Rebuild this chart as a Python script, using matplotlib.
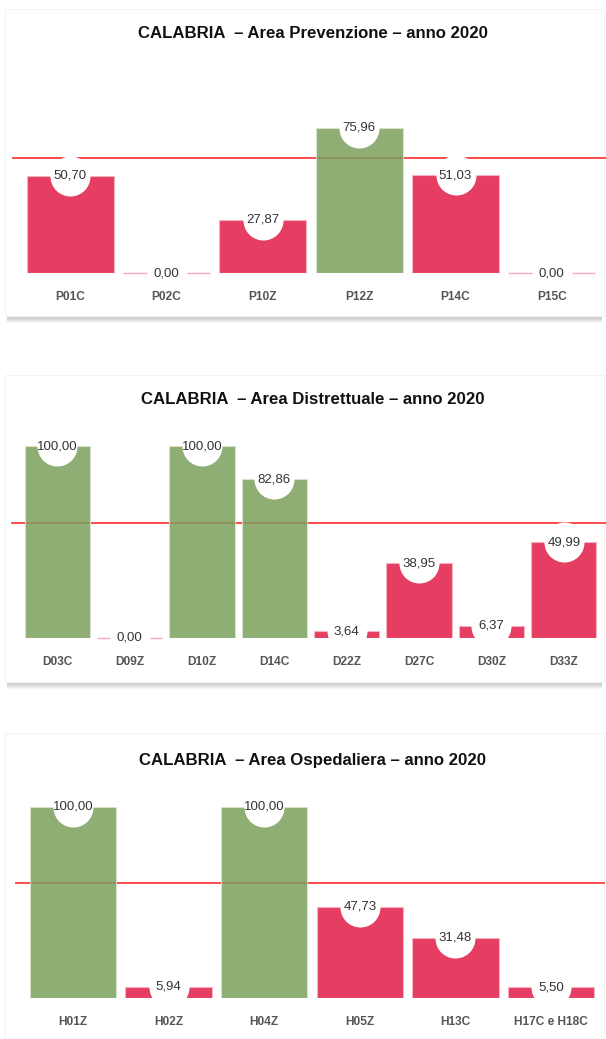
import matplotlib.pyplot as plt
from matplotlib.patches import FancyBboxPatch

plt.rcParams['font.family'] = ['Liberation Sans', 'DejaVu Sans']

# Data
titles = [
    "CALABRIA  \u2013 Area Prevenzione \u2013 anno 2020",
    "CALABRIA  \u2013 Area Distrettuale \u2013 anno 2020",
    "CALABRIA  \u2013 Area Ospedaliera \u2013 anno 2020",
]
prev_labels = ["P01C", "P02C", "P10Z", "P12Z", "P14C", "P15C"]
prev_values = [50.70, 0.00, 27.87, 75.96, 51.03, 0.00]
distr_labels = ["D03C", "D09Z", "D10Z", "D14C", "D22Z", "D27C", "D30Z", "D33Z"]
distr_values = [100.00, 0.00, 100.00, 82.86, 3.64, 38.95, 6.37, 49.99]
osp_labels = ["H01Z", "H02Z", "H04Z", "H05Z", "H13C", "H17C e H18C"]
osp_values = [100.00, 5.94, 100.00, 47.73, 31.48, 5.50]
threshold = 60

W, H = 606, 1039
fig = plt.figure(figsize=(W / 100, H / 100), dpi=100)

green = "#7BA05B"
red = "#E21C46"


def fx(px):
    return px / W


def fy(py):
    return 1 - py / H


# cards with a soft shadow
cards = [(5, 9, 604, 316), (5, 375, 604, 682), (5, 733, 604, 1045)]
for x0, y0, x1, y1 in cards:
    for i in range(7, 0, -1):
        sh = FancyBboxPatch((fx(x0 + 2), fy(y1 + i)), fx(x1 - x0 - 4), fy(y0) - fy(y1),
                            boxstyle="square,pad=0", transform=fig.transFigure,
                            facecolor="black", edgecolor="none", alpha=0.035, zorder=-5)
        fig.patches.append(sh)
    card = FancyBboxPatch((fx(x0), fy(y1)), fx(x1 - x0), fy(y0) - fy(y1),
                          boxstyle="square,pad=0", transform=fig.transFigure,
                          facecolor="white", edgecolor="#f4f4f4", linewidth=0.8, zorder=-4)
    fig.patches.append(card)

panels = [
    (prev_labels, prev_values, 22, 600, 273, 33),
    (distr_labels, distr_values, 21, 600, 638, 400),
    (osp_labels, osp_values, 25, 599, 998, 760),
]

for (labels, values, left, right, base, ty), title in zip(panels, titles):
    ax = fig.add_axes([fx(left), fy(base), fx(right - left), 191.5 / H])
    n = len(values)
    xs = list(range(n))
    colors = [green if v >= threshold else red for v in values]
    edges = ["#F5B5C4" if v < threshold else "#D8E4CC" for v in values]
    ax.bar(xs, values, width=0.9, color=colors, alpha=0.85,
           edgecolor=edges, linewidth=0.8, zorder=3)
    # zero-valued bars show as a thin pale line
    zx = [x for x, v in zip(xs, values) if v == 0]
    if zx:
        ax.hlines([0] * len(zx), [x - 0.45 for x in zx], [x + 0.45 for x in zx],
                  color="#F5A9BA", lw=1.0, zorder=3, clip_on=False)
    ax.plot([-0.0155, 1.009], [threshold, threshold], color="#FF3B3B", lw=1.3,
            transform=ax.get_yaxis_transform(), clip_on=False, zorder=2)
    ax.scatter(xs, values, s=830, color="white", zorder=4, clip_on=False, linewidths=0)
    for x, v in zip(xs, values):
        ax.text(x, v, f"{v:.2f}".replace(".", ","), ha="center", va="center",
                fontsize=9.5, color="#333333", zorder=5)
    ax.set_xlim(-0.5, n - 0.5)
    ax.set_ylim(0, 100)
    ax.set_xticks(xs)
    ax.set_xticklabels(labels, fontsize=8.6, fontweight="bold", color="#555555")
    ax.tick_params(axis="x", length=0, pad=13)
    ax.xaxis.set_zorder(6)
    ax.set_yticks([])
    for s in ax.spines.values():
        s.set_visible(False)
    ax.patch.set_alpha(0)
    fig.text(fx(313), fy(ty), title, ha="center", va="center",
             fontsize=12.1, fontweight="bold", color="#111111")

fig.savefig("out.png", dpi=100)
